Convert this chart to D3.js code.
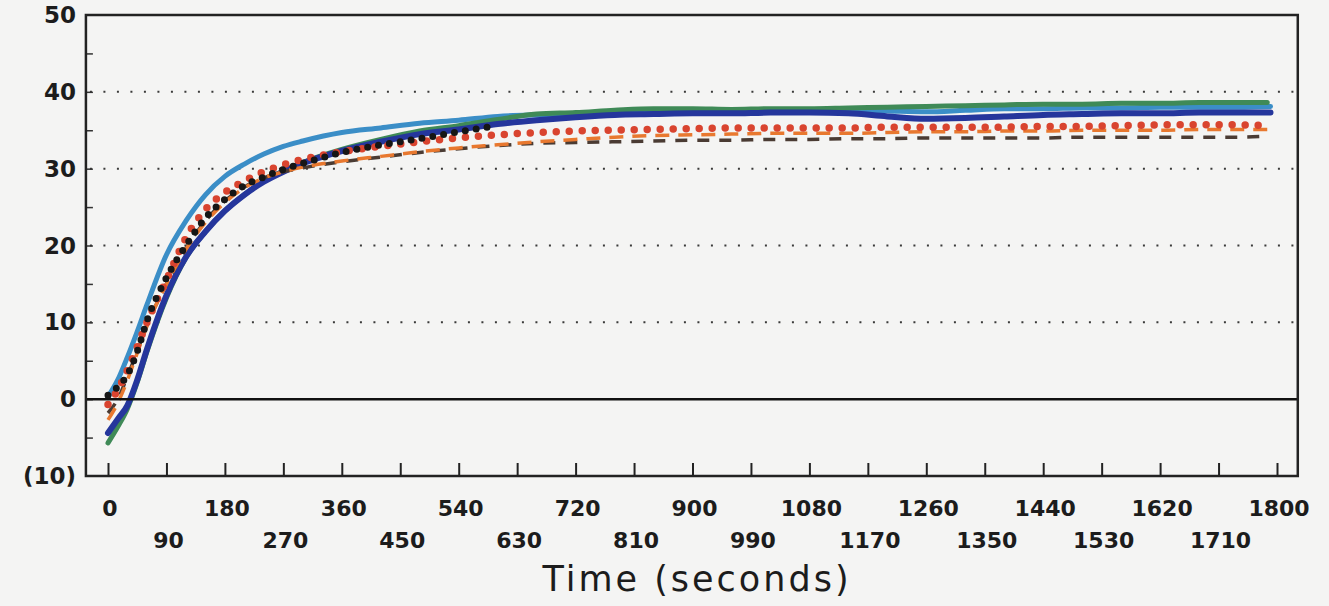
<!DOCTYPE html>
<html>
<head>
<meta charset="utf-8">
<script src="https://cdn.jsdelivr.net/npm/d3@7"></script>
<style>
  body { margin: 0; background: #f4f4f3; }
  svg { display: block; }
  text { font-family: "DejaVu Sans", sans-serif; fill: #1c1c1c; }
</style>
</head>
<body>
<svg id="chart" width="1329" height="606"></svg>
<script>
// sample times (seconds)
var times = [0, 15, 30, 45, 60, 90, 120, 150, 180, 210, 240, 270, 300, 360, 420, 480, 540, 600, 660, 720,
  780, 840, 900, 960, 1020, 1080, 1140, 1200, 1260, 1320, 1380, 1440, 1500, 1560, 1620, 1680, 1740, 1800];

var lightBlue = [0.3, 2.5, 5.5, 8.8, 12.3, 18.8, 23.2, 26.6, 29, 30.6, 31.9, 32.9, 33.6, 34.7, 35.3, 35.9, 36.3, 36.8, 37, 37.1,
  37.2, 37.3, 37.3, 37.3, 37.4, 37.5, 37.6, 37.5, 37.4, 37.6, 37.8, 37.8, 37.9, 37.9, 38, 38, 38, 38.1];
var green = [-5.7, -3.6, -1.2, 2.2, 6.2, 13.2, 18.4, 21.8, 24.5, 26.6, 28.4, 29.7, 30.8, 32.5, 33.8, 34.9, 35.6, 36.4, 37.1, 37.3,
  37.6, 37.8, 37.8, 37.7, 37.8, 37.8, 37.9, 38, 38.1, 38.2, 38.3, 38.4, 38.4, 38.5, 38.5, 38.6, 38.6, 38.6];
var navy = [-4.4, -2.6, -0.8, 2.5, 6.5, 13.5, 18.5, 21.8, 24.5, 26.6, 28.3, 29.6, 30.7, 32.3, 33.5, 34.5, 35.1, 35.8, 36.3, 36.7,
  37, 37.1, 37.2, 37.2, 37.3, 37.3, 37.2, 36.8, 36.5, 36.6, 36.8, 37, 37.1, 37.2, 37.2, 37.3, 37.3, 37.3];
var blackDots = [0.5, 1.6, 3.2, 6.2, 10.2, 15.8, 20, 23.6, 26, 27.8, 28.9, 29.9, 30.7, 32.1, 33.1, 33.9, 34.8, 35.6];
var redDots = [-0.7, 1.2, 3.8, 6.8, 10, 15.5, 21, 24.7, 26.9, 28.4, 29.6, 30.5, 31.2, 32.2, 32.9, 33.5, 34, 34.4, 34.7, 34.9,
  35, 35.1, 35.2, 35.3, 35.3, 35.3, 35.3, 35.4, 35.4, 35.4, 35.4, 35.5, 35.5, 35.6, 35.7, 35.7, 35.7, 35.6];
var orangeDash = [-2.7, -0.5, 2.5, 6, 9.5, 15, 19.5, 23, 25.6, 27.5, 28.8, 29.6, 30.2, 31, 31.6, 32.2, 32.7, 33.1, 33.5, 33.8,
  34.1, 34.3, 34.4, 34.5, 34.6, 34.6, 34.6, 34.7, 34.8, 34.8, 34.9, 34.9, 35, 35, 35, 35.1, 35.1, 35.1];
var darkDash = [-1.8, 0, 3, 6.2, 9.6, 15, 19.6, 23.2, 25.8, 27.6, 28.8, 29.6, 30.1, 30.9, 31.5, 32.1, 32.6, 33, 33.3, 33.4,
  33.5, 33.6, 33.7, 33.7, 33.8, 33.8, 33.9, 33.9, 34, 34, 34, 34, 34.1, 34.1, 34.1, 34.1, 34.1, 34.2];

var yTicks = [-10, 0, 10, 20, 30, 40, 50];
var yTickLabels = ["(10)", "0", "10", "20", "30", "40", "50"];
var xTicks = d3.range(0, 1801, 90);
var xTitle = "Time (seconds)";

var svg = d3.select("#chart");
var x = d3.scaleLinear().domain([0, 1800]).range([108, 1277]);
var y = d3.scaleLinear().domain([-10, 50]).range([476, 15]);
var left = x(-34), right = x(1832);

// dotted grid
svg.append("g").selectAll("line")
    .data([10, 20, 30, 40])
  .enter().append("line")
    .attr("x1", left + 4).attr("x2", right - 4)
    .attr("y1", y).attr("y2", y)
    .attr("stroke", "#3a3a3a").attr("stroke-width", 2)
    .attr("stroke-dasharray", "2 11.5");

// y axis: minor ticks inward every 5
var yAxis = d3.axisLeft(y).tickValues(d3.range(-5, 50, 5)).tickSize(-7).tickFormat("");
svg.append("g").attr("transform", "translate(" + left + ",0)").call(yAxis)
  .call(function (g) { g.select(".domain").remove(); })
  .selectAll("line").attr("stroke", "#333").attr("stroke-width", 1.5);

svg.append("g").selectAll("text")
    .data(yTicks)
  .enter().append("text")
    .attr("x", 76).attr("y", function (d) { return y(d) + 8; })
    .attr("text-anchor", "end")
    .attr("font-size", 23).attr("font-weight", "bold")
    .text(function (d, i) { return yTickLabels[i]; });

// x axis ticks pointing up, labels on two rows
var xAxis = d3.axisBottom(x).tickValues(xTicks).tickSize(-12).tickFormat("");
svg.append("g").attr("transform", "translate(0," + (y(-10) - 1) + ")").call(xAxis)
  .call(function (g) { g.select(".domain").remove(); })
  .selectAll("line").attr("stroke", "#222").attr("stroke-width", 2);

svg.append("g").selectAll("text")
    .data(xTicks)
  .enter().append("text")
    .attr("x", function (d) { return x(d) + 2; })
    .attr("y", function (d, i) { return i % 2 ? 548 : 516; })
    .attr("text-anchor", "middle")
    .attr("font-size", 22).attr("font-weight", "bold")
    .text(function (d) { return d; });

svg.append("text")
    .attr("x", 697).attr("y", 591)
    .attr("text-anchor", "middle")
    .attr("font-size", 35).attr("letter-spacing", 3)
    .text(xTitle);

// series
var line = d3.line()
    .x(function (d) { return x(d[0]); })
    .y(function (d) { return y(d[1]); })
    .curve(d3.curveMonotoneX);

function pairs(vals, tmax) {
  return vals.map(function (v, i) { return [Math.min(times[i], tmax || 1800), v]; });
}

var series = [
  { vals: lightBlue, color: "#3b8ec7", width: 5, dash: null, cap: "round", tmax: 1790 },
  { vals: green, color: "#3f8a57", width: 5, dash: null, cap: "round", tmax: 1785 },
  { vals: navy, color: "#25369c", width: 6, dash: null, cap: "round", tmax: 1790 },
  { vals: darkDash, color: "#4a3b33", width: 3.5, dash: "12 10", cap: "butt", tmax: 1780 },
  { vals: orangeDash, color: "#e8782f", width: 3.5, dash: "14 9", cap: "butt", tmax: 1795 },
  { vals: redDots, color: "#d9442f", width: 7.5, dash: "0 13", cap: "round", tmax: 1785 },
  { vals: blackDots, color: "#161616", width: 7, dash: "0 11", cap: "round", tmax: 1800 }
];

svg.append("g").attr("fill", "none").selectAll("path")
    .data(series)
  .enter().append("path")
    .attr("d", function (s) { return line(pairs(s.vals, s.tmax)); })
    .attr("stroke", function (s) { return s.color; })
    .attr("stroke-width", function (s) { return s.width; })
    .attr("stroke-dasharray", function (s) { return s.dash; })
    .attr("stroke-linecap", function (s) { return s.cap; });

// zero line and frame
svg.append("line")
    .attr("x1", left).attr("x2", right)
    .attr("y1", y(0)).attr("y2", y(0))
    .attr("stroke", "#111").attr("stroke-width", 2.5);

svg.append("rect")
    .attr("x", left).attr("y", y(50))
    .attr("width", right - left).attr("height", y(-10) - y(50))
    .attr("fill", "none").attr("stroke", "#222").attr("stroke-width", 2.5);
</script>
</body>
</html>
